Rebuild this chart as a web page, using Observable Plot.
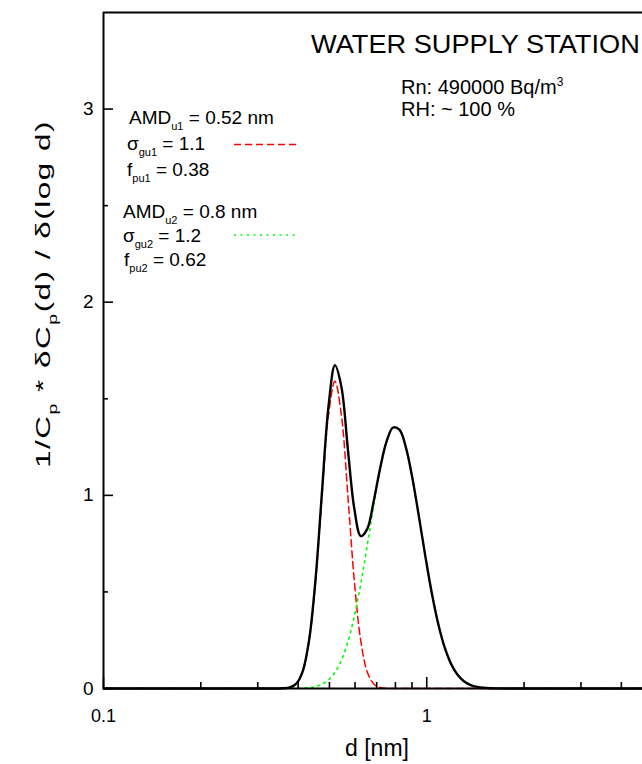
<!DOCTYPE html>
<html>
<head>
<meta charset="utf-8">
<script src="https://cdn.jsdelivr.net/npm/d3@7"></script>
<script src="https://cdn.jsdelivr.net/npm/@observablehq/plot@0.6"></script>
<style>
  body { margin: 0; background: #fff; overflow: hidden; }
  svg { display: block; }
  text { white-space: pre; }
</style>
</head>
<body>
<div id="chart"></div>
<script>
// ---- data ----
const diameters = [0.1, 0.3, 0.3436, 0.3597, 0.3767, 0.3945, 0.4130, 0.4325, 0.4529, 0.4742, 0.4966, 0.5200,
  0.5445, 0.5702, 0.5970, 0.6252, 0.6546, 0.6855, 0.7178, 0.7516, 0.7870, 0.8241, 0.8630, 0.9036, 0.9462,
  0.9908, 1.0375, 1.0864, 1.1376, 1.1912, 1.2474, 1.3062, 1.3677, 1.4322, 1.4997, 1.5704, 1.6444, 2.0, 4.65];

const totalDist = [0, 0, 0.0001, 0.0010, 0.0055, 0.0245, 0.0878, 0.2503, 0.5666, 1.0193, 1.4597, 1.6737,
  1.5616, 1.2386, 0.9303, 0.7892, 0.8267, 0.9712, 1.1419, 1.2804, 1.3513, 1.3387, 1.2444, 1.0852, 0.8879,
  0.6815, 0.4908, 0.3316, 0.2102, 0.1250, 0.0698, 0.0365, 0.0179, 0.0083, 0.0036, 0.0014, 0.0006, 0, 0];

const mode1Dist = [0, 0, 0.0001, 0.0009, 0.0052, 0.0238, 0.0859, 0.2457, 0.5562, 0.9971, 1.4153, 1.5905,
  1.4153, 0.9971, 0.5562, 0.2457, 0.0859, 0.0238, 0.0052, 0.0009, 0.0001, 0, 0, 0, 0,
  0, 0, 0, 0, 0, 0, 0, 0, 0, 0, 0, 0, 0, 0];

const mode2Dist = [0, 0, 0, 0.0001, 0.0003, 0.0007, 0.0019, 0.0046, 0.0104, 0.0222, 0.0444, 0.0832,
  0.1463, 0.2415, 0.3741, 0.5435, 0.7408, 0.9474, 1.1367, 1.2795, 1.3512, 1.3387, 1.2444, 1.0852, 0.8879,
  0.6815, 0.4908, 0.3316, 0.2102, 0.1250, 0.0698, 0.0365, 0.0179, 0.0083, 0.0036, 0.0014, 0.0006, 0, 0];

const xDomain = [0.1, 4.65];
const yDomain = [0, 3.5];
const xLabelTicks = [0.1, 1];
const xTickLabels = ["0.1", "1"];
const xMinorTicks = [0.2, 0.3, 0.4, 0.5, 0.6, 0.7, 0.8, 0.9, 2, 3, 4];
const yLabelTicks = [0, 1, 2, 3];
const yTickLabels = ["0", "1", "2", "3"];
const yMinorTicks = [0.5, 1.5, 2.5];

// ---- build table ----
const rows = diameters.map((d, i) => ({d, total: totalDist[i], m1: mode1Dist[i], m2: mode2Dist[i]}));

const W = 642, H = 764, mL = 103, mR = 0, mT = 12, mB = 76;
const frameW = W - mL - mR, frameH = H - mT - mB;

const svg = Plot.plot({
  width: W, height: H,
  marginLeft: mL, marginRight: mR, marginTop: mT, marginBottom: mB,
  style: {fontFamily: "'Liberation Sans', Arial, sans-serif", background: "#fff", color: "#000"},
  x: {type: "log", domain: xDomain, label: null},
  y: {domain: yDomain, label: null},
  marks: [
    // colored modes (under the total curve)
    Plot.line(rows, {x: "d", y: "m1", stroke: "#ff0000", strokeWidth: 1.5, strokeDasharray: "7,4", curve: "catmull-rom"}),
    Plot.line(rows, {x: "d", y: "m2", stroke: "#00ff00", strokeWidth: 1.6, strokeDasharray: "2,4.5", curve: "catmull-rom"}),
    Plot.line(rows, {x: "d", y: "total", stroke: "#000", strokeWidth: 2.4, curve: "catmull-rom"}),
    // frame
    Plot.ruleX([xDomain[0]], {stroke: "#000", strokeWidth: 2}),
    Plot.ruleY([yDomain[0]], {stroke: "#000", strokeWidth: 2}),
    Plot.ruleY([yDomain[1]], {stroke: "#000", strokeWidth: 2}),
    // inward ticks
    Plot.tickX(xLabelTicks, {x: d => d, stroke: "#000", strokeWidth: 1.6, insetTop: frameH - 11}),
    Plot.tickX(xMinorTicks, {x: d => d, stroke: "#000", strokeWidth: 1.6, insetTop: frameH - 6}),
    Plot.tickY(yLabelTicks, {y: d => d, stroke: "#000", strokeWidth: 1.6, insetRight: frameW - 10}),
    Plot.tickY(yMinorTicks, {y: d => d, stroke: "#000", strokeWidth: 1.6, insetRight: frameW - 5}),
    // tick labels
    Plot.axisX(xLabelTicks, {tickSize: 0, tickPadding: 21, fontSize: 18, label: null,
      tickFormat: d => xTickLabels[xLabelTicks.indexOf(d)]}),
    Plot.axisY(yLabelTicks, {tickSize: 0, tickPadding: 10, fontSize: 19, label: null,
      tickFormat: d => yTickLabels[yLabelTicks.indexOf(d)]})
  ]
});

document.getElementById("chart").appendChild(svg);
const s = d3.select(svg);

// rich text helper (subscripts / superscripts)
function rich(x, y, parts, size, {anchor = "start", rotate = 0, fitWidth = null, spacing = 0,
                                  subScale = 0.6, subShift = 0.34} = {}) {
  const g = s.append("g").attr("transform", `translate(${x},${y})` + (rotate ? ` rotate(${rotate})` : ""));
  const t = g.append("text").attr("font-size", size).attr("text-anchor", anchor).attr("fill", "#000")
    .attr("letter-spacing", spacing);
  let off = 0;
  for (const [str, kind] of parts) {
    const fs = kind === "n" ? size : Math.round(size * subScale);
    const target = kind === "sub" ? size * subShift : kind === "sup" ? -size * 0.42 : 0;
    t.append("tspan").attr("font-size", fs).attr("dy", target - off).text(str);
    off = target;
  }
  if (fitWidth) {
    const w = t.node().getComputedTextLength();
    t.attr("transform", `scale(${fitWidth / w},1)`);
  }
  return t;
}

// title and conditions
rich(311, 53, [["WATER SUPPLY STATION", "n"]], 26, {fitWidth: 329});
rich(401, 94, [["Rn: 490000 Bq/m", "n"], ["3", "sup"]], 20);
rich(401, 116, [["RH: ~ 100 %", "n"]], 20);

// legend text
rich(129, 124, [["AMD", "n"], ["u1", "sub"], [" = 0.52 nm", "n"]], 19);
rich(127, 150, [["σ", "n"], ["gu1", "sub"], [" = 1.1", "n"]], 19);
rich(127, 176, [["f", "n"], ["pu1", "sub"], [" = 0.38", "n"]], 19);
rich(123, 218, [["AMD", "n"], ["u2", "sub"], [" = 0.8 nm", "n"]], 19);
rich(123, 242, [["σ", "n"], ["gu2", "sub"], [" = 1.2", "n"]], 19);
rich(124, 266, [["f", "n"], ["pu2", "sub"], [" = 0.62", "n"]], 19);

// legend line samples
s.append("line").attr("x1", 234).attr("x2", 298).attr("y1", 144.5).attr("y2", 144.5)
  .attr("stroke", "#ff0000").attr("stroke-width", 1.5).attr("stroke-dasharray", "7,4");
s.append("line").attr("x1", 234).attr("x2", 298).attr("y1", 235).attr("y2", 235)
  .attr("stroke", "#00ff00").attr("stroke-width", 1.6).attr("stroke-dasharray", "2,4.5");

// axis titles
rich(377, 756, [["d [nm]", "n"]], 23, {anchor: "middle"});
rich(50, 294, [["1/C", "n"], ["p", "sub"], [" * δC", "n"], ["p", "sub"], ["(d) / δ(log d)", "n"]], 21,
  {anchor: "middle", rotate: -90, fitWidth: 348, spacing: 1});
</script>
</body>
</html>
